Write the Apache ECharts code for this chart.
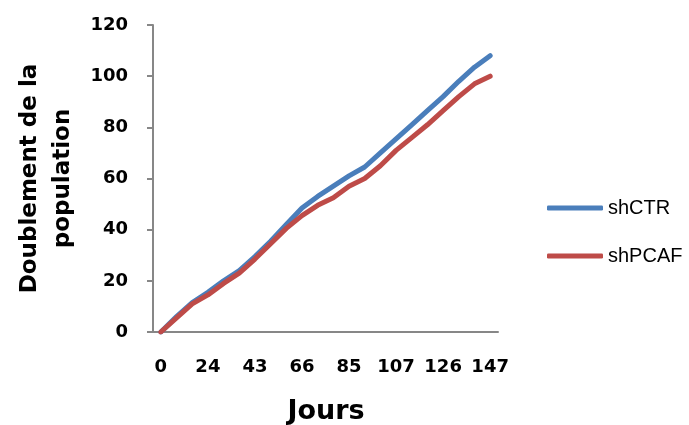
<!DOCTYPE html>
<html>
<head>
<meta charset="utf-8">
<script src="https://cdn.jsdelivr.net/npm/echarts@6/dist/echarts.min.js"></script>
<style>
  html, body { margin: 0; padding: 0; background: #fff; overflow: hidden; }
  #chart { width: 689px; height: 425px; }
</style>
</head>
<body>
<div id="chart"></div>
<script>
// jours (seuls 1 sur 3 sont affichés)
var jours = ['0', '7', '15', '24', '30', '37', '43', '51', '58', '66', '72', '79',
  '85', '93', '100', '107', '113', '120', '126', '133', '140', '147'];
var shCTR = [0, 6, 11.5, 15.5, 20, 24, 29.5, 35.5, 42, 48.5, 53, 57, 61, 64.5, 70,
  75.5, 81, 86.5, 92, 98, 103.5, 108];
var shPCAF = [0, 5.5, 11, 14.5, 19, 23, 28.5, 34.5, 40.5, 45.5, 49.5, 52.5, 57, 60,
  65, 71, 76, 81, 86.5, 92, 97, 100];

var chart = echarts.init(document.getElementById('chart'));
var boldFont = 'DejaVu Sans';
var axisGray = '#878787';

chart.setOption({
  animation: false,
  textStyle: { fontFamily: boldFont },
  // titre de l'axe x posé à la main (nameGap se comporte bizarrement en v6)
  title: {
    text: 'Jours',
    left: 326,
    top: 398,
    textAlign: 'center',
    padding: 0,
    textStyle: { fontSize: 27, fontWeight: 'bold', color: '#000', fontFamily: boldFont }
  },
  legend: {
    orient: 'vertical',
    left: 547,
    top: 198,
    padding: 0,
    itemWidth: 56,
    itemHeight: 5,
    itemGap: 28,
    icon: 'roundRect',
    textStyle: { fontSize: 20, color: '#000', fontFamily: 'Liberation Sans' },
    data: ['shCTR', 'shPCAF']
  },
  grid: { left: 153, right: 191, top: 25, bottom: 93, outerBoundsMode: 'none' },
  xAxis: {
    type: 'category',
    data: jours,
    boundaryGap: true,
    axisLine: { lineStyle: { color: axisGray, width: 2 } },
    axisTick: { interval: 0, length: 6, lineStyle: { color: axisGray, width: 2 } },
    axisLabel: { interval: 2, margin: 26, fontSize: 18, fontWeight: 'bold', color: '#000' }
  },
  yAxis: {
    type: 'value',
    min: 0,
    max: 120,
    interval: 20,
    name: 'Doublement de la\npopulation',
    nameLocation: 'middle',
    nameGap: 73,
    nameMoveOverlap: false,
    nameRotate: 90,
    nameTextStyle: { fontSize: 23, fontWeight: 'bold', color: '#000', lineHeight: 33 },
    axisLine: { show: true, lineStyle: { color: axisGray, width: 2 } },
    axisTick: { show: true, length: 6, lineStyle: { color: axisGray, width: 2 } },
    splitLine: { show: false },
    axisLabel: { margin: 25, fontSize: 18, fontWeight: 'bold', color: '#000' }
  },
  series: [
    {
      name: 'shCTR',
      type: 'line',
      data: shCTR,
      symbol: 'none',
      color: '#4a7ebb',
      lineStyle: { width: 5, cap: 'round', join: 'round' }
    },
    {
      name: 'shPCAF',
      type: 'line',
      data: shPCAF,
      symbol: 'none',
      color: '#be4b48',
      lineStyle: { width: 5, cap: 'round', join: 'round' }
    }
  ]
});
</script>
</body>
</html>
